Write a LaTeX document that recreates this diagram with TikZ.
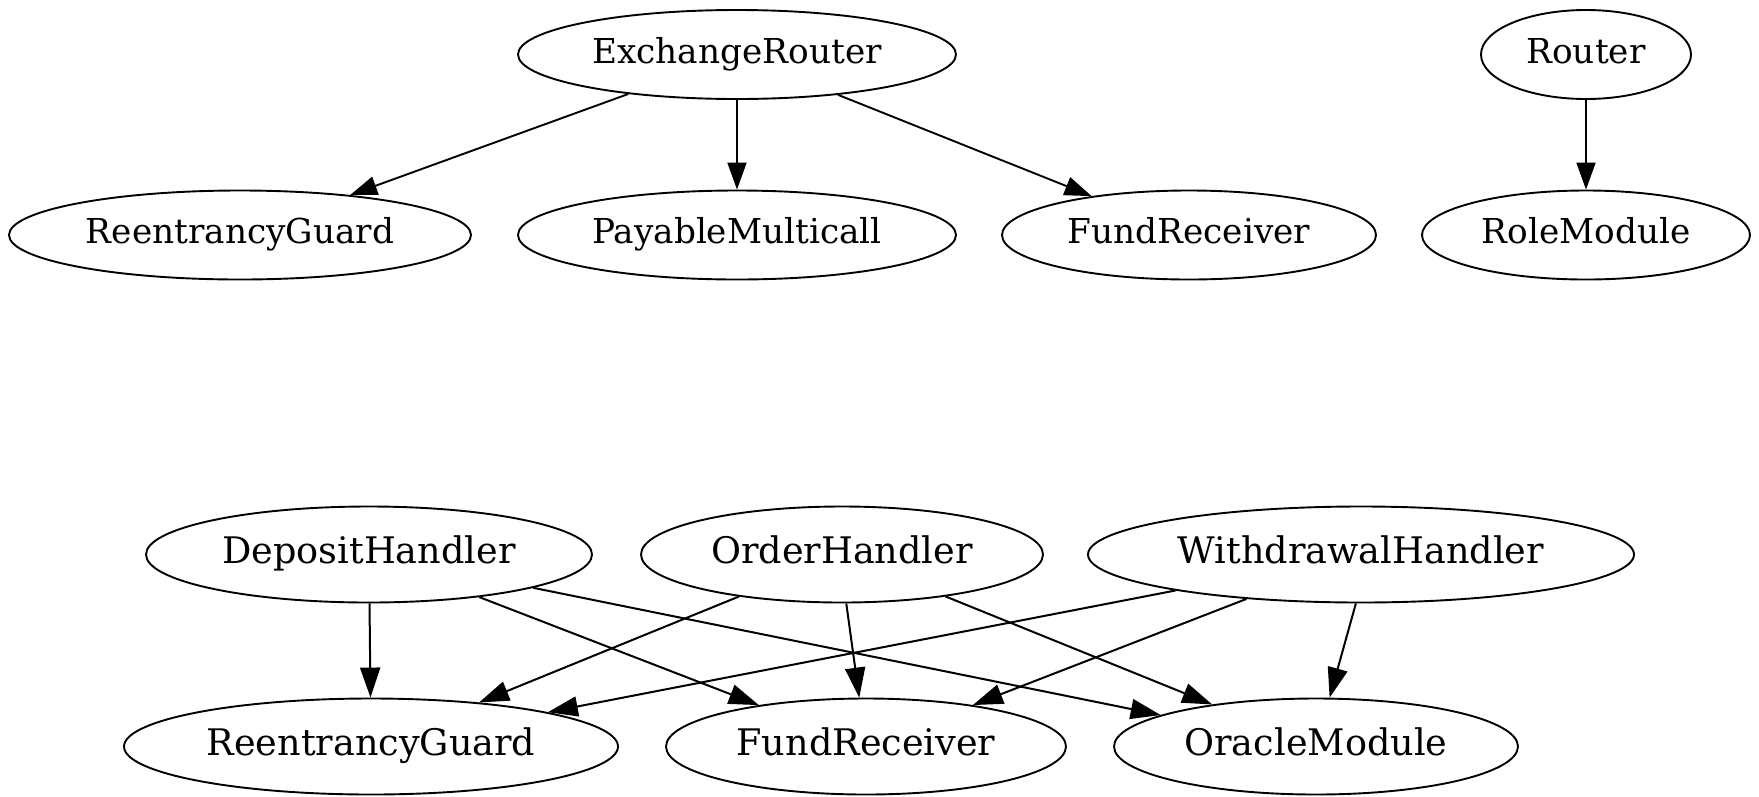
\documentclass[tikz,border=0pt]{standalone}
\usepackage{fontspec}
\setmainfont{DejaVu Serif}
\usetikzlibrary{shapes.geometric,arrows.meta}
\begin{document}
\begin{tikzpicture}[x=1pt,y=-1pt,
  ell/.style={draw,ellipse,inner sep=0pt,line width=1.9pt},
  topnode/.style={ell,font=\fontsize{34.3}{40}\selectfont,minimum height=89pt,
    text height=26.1pt,text depth=8.6pt},
  botnode/.style={ell,font=\fontsize{36.6}{43}\selectfont,minimum height=96pt,
    text height=27.8pt,text depth=9.2pt},
  toparr/.style={line width=1.9pt,-{Triangle[length=27pt,width=19pt]}},
  botarr/.style={line width=2pt,-{Triangle[length=30pt,width=20pt]}}]
\useasboundingbox (0,0) rectangle (1759,796);

% upper graph
\node[topnode,minimum width=438pt] (er) at (737,54.5) {ExchangeRouter};
\node[topnode,minimum width=210pt] (rt) at (1586,54.5) {Router};
\node[topnode,minimum width=462pt] (rg1) at (240,235) {ReentrancyGuard};
\node[topnode,minimum width=438pt] (pm) at (737,235) {PayableMulticall};
\node[topnode,minimum width=374pt] (fr1) at (1189,235) {FundReceiver};
\node[topnode,minimum width=328pt] (rm) at (1586,235) {RoleModule};

\draw[toparr] (er) -- (rg1);
\draw[toparr] (er) -- (pm);
\draw[toparr] (er) -- (fr1);
\draw[toparr] (rt) -- (rm);

% lower graph
\node[botnode,minimum width=446pt] (dh) at (369,554.5) {DepositHandler};
\node[botnode,minimum width=402pt] (oh) at (842,554.5) {OrderHandler};
\node[botnode,minimum width=546pt] (wh) at (1361,554.5) {WithdrawalHandler};
\node[botnode,minimum width=494pt] (rg2) at (371,746.5) {ReentrancyGuard};
\node[botnode,minimum width=400pt] (fr2) at (866,746.5) {FundReceiver};
\node[botnode,minimum width=404pt] (om) at (1316,746.5) {OracleModule};

\draw[botarr] (dh) -- (rg2);
\draw[botarr] (dh) -- (fr2);
\draw[botarr] (dh) -- (om);
\draw[botarr] (oh) -- (rg2);
\draw[botarr] (oh.-85) -- (fr2);
\draw[botarr] (oh) -- (om);
\draw[botarr] (wh) -- (rg2);
\draw[botarr] (wh) -- (fr2);
\draw[botarr] (wh.-96) -- (om);
\end{tikzpicture}
\end{document}
